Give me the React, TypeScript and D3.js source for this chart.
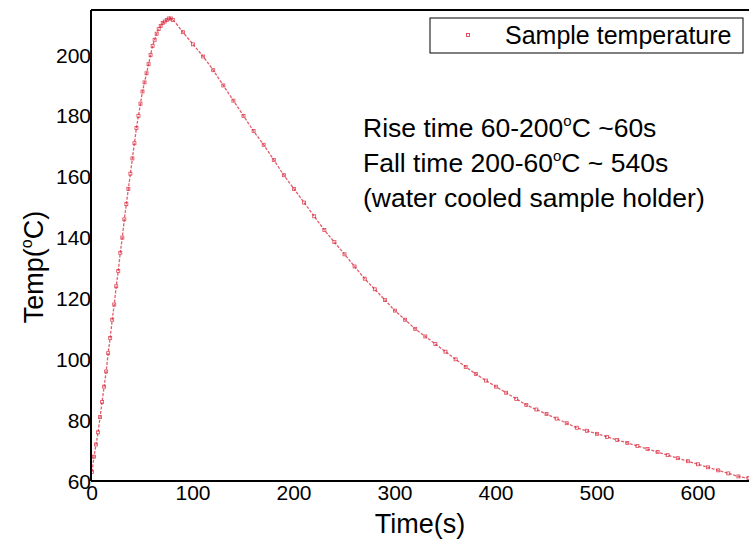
import React from "react";
import * as d3 from "d3";

const riseTime = [0,2,4,6,8,10,12,14,16,18,20,22,24,26,28,30,32,34,36,38,40,42,44,46,48,50,52,54,56,58,60,62,64,66,68,70,72,74,76,78];
const riseTemp = [63,68,72,76,81,86,91,96,102,107,113,118,124,129,135,140,146,151,156,161,166,171,176,180,184,188,191,194,197,200,203,205,207,208.5,209.5,210.5,211,211.5,212,212];
const fallTime = [80,90,100,110,120,130,140,150,160,170,180,190,200,210,220,230,240,250,260,270,280,290,300,310,320,330,340,350,360,370,380,390,400,410,420,430,440,450,460,470,480,490,500,510,520,530,540,550,560,570,580,590,600,610,620,630,640,650];
const fallTemp = [211.5,207.5,203.5,199.5,195,190,185,180,175,170.5,165.5,160.5,156,151.5,147,142.5,138.5,134.5,130.5,126.5,123,119.5,116,113,110,107.5,105,102.5,100,97.5,95.2,93,91,89,87,85,83.5,82,80.5,79,77.5,76.5,75.5,74.5,73.5,72.5,71.5,70.5,69.5,68.5,67.5,66.5,65.5,64.5,63.5,62.5,61.5,61];

const xTicks = [0,100,200,300,400,500,600];
const yTicks = [60,80,100,120,140,160,180,200];
const legendLabel = "Sample temperature";
const annotation = [
  ["Rise time 60-200", "C ~60s"],
  ["Fall time 200-60", "C ~ 540s"],
  ["(water cooled sample holder)", ""],
];

const W = 749, H = 542;
const RED = "#d8283c";
const FONT = "'Liberation Sans', Arial, sans-serif";

export default function App() {
  const x = d3.scaleLinear().domain([0, 600]).range([92, 698]);
  const y = d3.scaleLinear().domain([60, 200]).range([481, 55]);
  const data = riseTime.map((t, i) => [t, riseTemp[i]]).concat(fallTime.map((t, i) => [t, fallTemp[i]]));
  const line = d3.line<number[]>().x(d => x(d[0])).y(d => y(d[1])).curve(d3.curveMonotoneX);
  const plotTop = 10, plotLeft = 91, plotBottom = 481;

  return (
    <svg width={W} height={H} style={{ position: "absolute", left: 0, top: 0, background: "#fff" }} fontFamily={FONT}>
      <defs>
        <clipPath id="plot"><rect x={plotLeft} y={plotTop} width={W - plotLeft} height={plotBottom - plotTop} /></clipPath>
      </defs>
      <g clipPath="url(#plot)">
        <path d={line(data) || ""} fill="none" stroke={RED} strokeWidth={1.3} strokeDasharray="3 1.5" opacity={0.75} />
        {data.map((d, i) => (
          <rect key={i} x={x(d[0]) - 1.5} y={y(d[1]) - 1.5} width={3} height={3} fill="none" stroke={RED} strokeWidth={0.8} opacity={0.85} />
        ))}
      </g>
      {/* frame */}
      <line x1={plotLeft} x2={W} y1={plotTop} y2={plotTop} stroke="#000" strokeWidth={2} />
      <line x1={plotLeft} x2={plotLeft} y1={plotTop} y2={plotBottom} stroke="#000" strokeWidth={2} />
      <line x1={plotLeft} x2={W} y1={plotBottom} y2={plotBottom} stroke="#000" strokeWidth={2} />
      {/* y ticks */}
      {yTicks.map(t => (
        <text key={t} x={91} y={y(t)} textAnchor="end" dominantBaseline="central" fontSize={21} fill="#000">{t}</text>
      ))}
      {xTicks.map(t => (
        <text key={t} x={x(t)} y={500} textAnchor="middle" fontSize={21} fill="#000">{t}</text>
      ))}
      <text x={420} y={533} textAnchor="middle" fontSize={27} fill="#000">Time(s)</text>
      <text transform="translate(43,267) rotate(-90)" textAnchor="middle" fontSize={27} fill="#000">
        Temp(<tspan fontSize={16} dy={-11}>o</tspan><tspan dy={11}>C)</tspan>
      </text>
      {/* legend */}
      <rect x={430} y={18} width={313} height={35} fill="#fff" stroke="#000" strokeWidth={1} />
      <rect x={466.5} y={33.5} width={3} height={3} fill="none" stroke={RED} strokeWidth={0.8} />
      <text x={505} y={44} fontSize={25} fill="#000">{legendLabel}</text>
      {/* annotation */}
      {annotation.map((a, i) => (
        <text key={i} x={363} y={137 + i * 35} fontSize={26.5} fill="#000">
          {a[0]}
          {a[1] ? <><tspan fontSize={15} dy={-11}>o</tspan><tspan dy={11}>{a[1]}</tspan></> : null}
        </text>
      ))}
    </svg>
  );
}
